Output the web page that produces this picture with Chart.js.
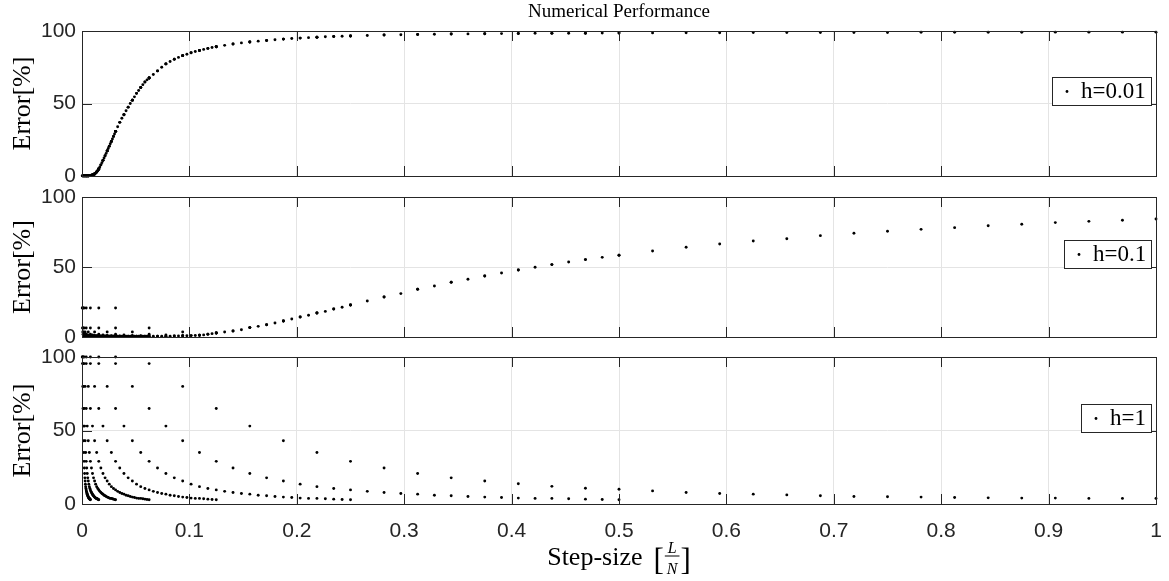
<!DOCTYPE html>
<html>
<head>
<meta charset="utf-8">
<title>Numerical Performance</title>
<script src="https://cdn.jsdelivr.net/npm/chart.js@4"></script>
<style>
  html, body { margin: 0; padding: 0; background: #fff; }
  #wrap { position: relative; width: 1169px; height: 581px; }
  #wrap canvas { position: absolute; left: 0; top: 0; }
</style>
</head>
<body>
<div id="wrap">
  <canvas id="panelTop" width="1169" height="581"></canvas>
  <canvas id="panelMid" width="1169" height="581"></canvas>
  <canvas id="panelBot" width="1169" height="581"></canvas>
</div>
<script>
// step index k along each run, step-size is k / N
const stepIndex = [1, 2, 3, 4, 5, 6, 7, 8, 9, 10, 11, 12, 13, 14, 15, 16,
                   17, 18, 19, 20, 21, 22, 23, 24, 25, 26, 27, 28, 29, 30, 31, 32];
const xTicks = [0, 0.1, 0.2, 0.3, 0.4, 0.5, 0.6, 0.7, 0.8, 0.9, 1];
const yTicks = [0, 50, 100];

// h = 0.01 (error in %, one array per N)
const topN32 = [30.8, 67.6, 83.0, 89.1, 92.4, 94.4, 95.7, 96.6, 97.2, 97.6, 97.9, 98.1, 98.3, 98.4, 98.5, 98.6,
                98.7, 98.8, 98.8, 98.9, 98.9, 99.0, 99.0, 99.0, 99.1, 99.1, 99.1, 99.1, 99.2, 99.2, 99.2, 99.2];
const topN64 = [4.8, 30.8, 52.3, 67.6, 77.3, 83.0, 86.6, 89.1, 91.0, 92.4, 93.5, 94.4, 95.1, 95.7, 96.2, 96.6,
                96.9, 97.2, 97.4, 97.6, 97.8, 97.9, 98.0, 98.1, 98.2, 98.3, 98.4, 98.4, 98.5, 98.5, 98.6, 98.6];
const topN128 = [0.3, 4.8, 17.3, 30.8, 42.2, 52.3, 61.0, 67.6, 72.5, 77.3, 80.5, 83.0, 85.0, 86.6, 88.0, 89.1,
                 90.1, 91.0, 91.8, 92.4, 93.0, 93.5, 94.0, 94.4, 94.8, 95.1, 95.4, 95.7, 96.0, 96.2, 96.4, 96.6];
const topN256 = [0.2, 0.3, 1.4, 4.8, 10.8, 17.3, 23.8, 30.8, 37.0, 42.2, 47.5, 52.3, 57.0, 61.0, 64.8, 67.6,
                 70.0, 72.5, 75.0, 77.3, 79.0, 80.5, 81.8, 83.0, 84.0, 85.0, 85.9, 86.6, 87.3, 88.0, 88.6, 89.1];
const topN512 = [0.1, 0.2, 0.2, 0.3, 0.8, 1.4, 2.8, 4.8, 7.7, 10.8, 14.0, 17.3, 20.6, 23.8, 27.3, 30.8,
                 34.0, 37.0, 39.8, 42.2, 45.0, 47.5, 50.0, 52.3, 54.6, 57.0, 59.0, 61.0, 63.0, 64.8, 66.3, 67.6];
const topN1024 = [0.1, 0.1, 0.1, 0.2, 0.2, 0.2, 0.3, 0.3, 0.5, 0.8, 1.1, 1.4, 2.0, 2.8, 3.7, 4.8,
                  6.2, 7.7, 9.2, 10.8, 12.4, 14.0, 15.6, 17.3, 19.0, 20.6, 22.2, 23.8, 25.5, 27.3, 29.0, 30.8];
const topN2048 = [0.1, 0.1, 0.1, 0.1, 0.1, 0.1, 0.1, 0.2, 0.2, 0.2, 0.2, 0.2, 0.2, 0.3, 0.3, 0.3,
                  0.4, 0.5, 0.6, 0.8, 0.9, 1.1, 1.2, 1.4, 1.7, 2.0, 2.4, 2.8, 3.2, 3.7, 4.2, 4.8];
const topN4096 = [0.1, 0.1, 0.1, 0.1, 0.1, 0.1, 0.1, 0.1, 0.1, 0.1, 0.1, 0.1, 0.1, 0.1, 0.1, 0.1,
                  0.2, 0.2, 0.2, 0.2, 0.2, 0.2, 0.2, 0.2, 0.2, 0.2, 0.3, 0.3, 0.3, 0.3, 0.3, 0.3];

// h = 0.1
const midN32 = [20.7, 6.4, 3.6, 2.9, 6.7, 11.4, 17.1, 22.9, 28.6, 34.1, 39.1, 43.6, 47.9, 51.7, 55.3, 58.4,
                61.4, 64.1, 66.4, 68.6, 70.2, 72.4, 74.1, 75.5, 76.9, 78.1, 79.5, 80.5, 81.7, 82.6, 83.4, 84.3];
const midN64 = [20.7, 6.4, 3.6, 2.0, 1.4, 1.1, 1.3, 2.9, 4.3, 6.7, 8.8, 11.4, 14.3, 17.1, 20.0, 22.9,
                25.7, 28.6, 31.0, 34.1, 36.4, 39.1, 41.2, 43.6, 45.7, 47.9, 49.8, 51.7, 53.6, 55.3, 56.9, 58.4];
const midN128 = [20.7, 6.4, 3.6, 2.0, 1.4, 1.1, 0.9, 0.7, 0.6, 0.6, 0.7, 0.8, 1.0, 1.3, 2.0, 2.9,
                 3.6, 4.3, 5.2, 6.7, 7.6, 8.8, 10.0, 11.4, 12.9, 14.3, 15.5, 17.1, 18.3, 20.0, 21.2, 22.9];
const midN256 = [20.7, 6.4, 3.6, 2.0, 1.4, 1.1, 0.9, 0.8, 0.7, 0.7, 0.6, 0.6, 0.6, 0.5, 0.5, 0.5,
                 0.5, 0.5, 0.6, 0.6, 0.6, 0.7, 0.7, 0.8, 0.9, 1.0, 1.1, 1.3, 1.5, 2.0, 2.4, 2.9];
const midFine = [20.7, 6.4, 3.6, 2.0, 1.4, 1.1, 0.9, 0.8, 0.8, 0.7, 0.7, 0.7, 0.6, 0.6, 0.6, 0.6,
                 0.6, 0.6, 0.6, 0.5, 0.5, 0.5, 0.5, 0.5, 0.5, 0.5, 0.5, 0.5, 0.5, 0.5, 0.5, 0.5];

// h = 1
const botN32 = [100, 95.5, 80, 65, 53, 43, 35, 29, 24.5, 20.7, 17.8, 15.6, 13.8, 12.0, 10.7, 10.0,
                8.9, 7.8, 7.1, 6.7, 6.2, 5.6, 5.1, 4.9, 4.7, 4.4, 4.2, 4.0, 4.0, 3.8, 3.8, 3.8];
const botFine = [100, 95.5, 80, 65, 53, 43, 35, 29, 24.5, 20.7, 17.8, 15.6, 13.5, 11.8, 10.5, 9.6,
                 8.6, 7.8, 7.1, 6.7, 6.0, 5.6, 5.1, 4.7, 4.4, 4.0, 3.8, 3.8, 3.6, 3.3, 3.1, 2.9];

const topRuns = [[32, topN32], [64, topN64], [128, topN128], [256, topN256],
                 [512, topN512], [1024, topN1024], [2048, topN2048], [4096, topN4096]];
const midRuns = [[32, midN32], [64, midN64], [128, midN128], [256, midN256],
                 [512, midFine], [1024, midFine], [2048, midFine], [4096, midFine]];
const botRuns = [[32, botN32], [64, botFine], [128, botFine], [256, botFine],
                 [512, botFine], [1024, botFine], [2048, botFine], [4096, botFine]];

const inkColor = '#262626';
const gridColor = '#e4e4e4';
const tickFont = { family: '"Liberation Sans", Arial, sans-serif', size: 21 };
const serif = '"Liberation Serif", "Times New Roman", serif';

function toPoints(runs) {
  const pts = [];
  runs.forEach(([n, vals]) => {
    vals.forEach((v, i) => pts.push({ x: stepIndex[i] / n, y: v }));
  });
  return pts;
}

// MATLAB-like box with inward ticks
const axesBox = {
  id: 'axesBox',
  afterDatasetsDraw(chart) {
    const { ctx, chartArea: a, scales: { x, y } } = chart;
    ctx.save();
    ctx.strokeStyle = inkColor;
    ctx.lineWidth = 1;
    ctx.beginPath();
    xTicks.forEach(v => {
      const px = Math.round(x.getPixelForValue(v)) + 0.5;
      ctx.moveTo(px, a.top); ctx.lineTo(px, a.top + 10);
      ctx.moveTo(px, a.bottom); ctx.lineTo(px, a.bottom - 10);
    });
    yTicks.forEach(v => {
      const py = Math.round(y.getPixelForValue(v)) + 0.5;
      ctx.moveTo(a.left, py); ctx.lineTo(a.left + 10, py);
      ctx.moveTo(a.right, py); ctx.lineTo(a.right - 10, py);
    });
    ctx.stroke();
    ctx.strokeRect(Math.round(a.left) + 0.5, Math.round(a.top) + 0.5,
                   Math.round(a.right - a.left), Math.round(a.bottom - a.top));
    ctx.restore();
  }
};

// legend box sitting on the 50% line at the right
const boxLegend = {
  id: 'boxLegend',
  afterDraw(chart) {
    const { ctx, chartArea: a, scales: { y } } = chart;
    const label = chart.data.datasets[0].label;
    ctx.save();
    ctx.font = '23px ' + serif;
    const tw = ctx.measureText(label).width;
    const w = Math.round(tw + 34), h = 28;
    const right = Math.round(a.right) - 5;
    const bottom = Math.round(y.getPixelForValue(50)) + 1;
    const left = right - w, top = bottom - h;
    ctx.fillStyle = '#fff';
    ctx.fillRect(left, top, w, h);
    ctx.strokeStyle = inkColor;
    ctx.lineWidth = 1;
    ctx.strokeRect(left + 0.5, top + 0.5, w, h);
    ctx.fillStyle = '#000';
    ctx.beginPath();
    ctx.arc(left + 15, top + h / 2 + 0.5, 1.4, 0, Math.PI * 2);
    ctx.fill();
    ctx.textBaseline = 'middle';
    ctx.fillText(label, left + 29, top + h / 2 + 1);
    ctx.restore();
  }
};

// x axis title with the L/N fraction
const stepLabel = {
  id: 'stepLabel',
  afterDraw(chart) {
    const { ctx, chartArea: a } = chart;
    const cx = (a.left + a.right) / 2;
    ctx.save();
    ctx.fillStyle = '#000';
    ctx.textBaseline = 'alphabetic';
    ctx.font = '26px ' + serif;
    const word = 'Step-size';
    const wWord = ctx.measureText(word).width;
    ctx.font = '31px ' + serif;
    const wBr = ctx.measureText('[').width;
    ctx.font = 'italic 16px ' + serif;
    const wL = ctx.measureText('L').width, wN = ctx.measureText('N').width;
    const wFrac = Math.max(wL, wN) + 6;
    const gap = 11;
    const total = wWord + gap + wBr + wFrac + wBr;
    let x = cx - total / 2;
    ctx.font = '26px ' + serif;
    ctx.fillText(word, x, 565);
    x += wWord + gap;
    ctx.font = '31px ' + serif;
    ctx.fillText('[', x, 570);
    x += wBr;
    ctx.font = 'italic 16px ' + serif;
    ctx.fillText('L', x + (wFrac - wL) / 2, 553);
    ctx.fillText('N', x + (wFrac - wN) / 2, 574);
    ctx.fillRect(x + 1, 555.5, wFrac - 2, 1);
    x += wFrac;
    ctx.font = '31px ' + serif;
    ctx.fillText(']', x, 570);
    ctx.restore();
  }
};

function makePanel(id, label, runs, cfg) {
  return new Chart(document.getElementById(id), {
    type: 'scatter',
    data: {
      datasets: [{
        label: label,
        data: toPoints(runs),
        pointBackgroundColor: '#000',
        pointBorderWidth: 0,
        pointRadius: 1.45,
        clip: false
      }]
    },
    options: {
      responsive: false,
      animation: false,
      devicePixelRatio: 1,
      events: [],
      layout: { padding: { top: cfg.top, bottom: cfg.bottom, left: 0, right: 13 } },
      plugins: {
        legend: { display: false },
        tooltip: { enabled: false },
        title: cfg.title || { display: false }
      },
      scales: {
        x: {
          type: 'linear', min: 0, max: 1,
          afterBuildTicks: s => { s.ticks = xTicks.map(v => ({ value: v })); },
          ticks: {
            display: cfg.showX, autoSkip: false, maxRotation: 0, padding: 15,
            color: inkColor, font: tickFont,
            callback: v => String(Math.round(v * 10) / 10)
          },
          grid: { color: gridColor, drawTicks: false },
          border: { display: false },
          afterFit: s => { s.height = cfg.xh; s.paddingLeft = 0; s.paddingRight = 0; }
        },
        y: {
          min: 0, max: 100,
          afterBuildTicks: s => { s.ticks = yTicks.map(v => ({ value: v })); },
          ticks: { padding: 6, color: inkColor, font: tickFont },
          grid: { color: gridColor, drawTicks: false },
          border: { display: false },
          title: {
            display: true, text: 'Error[%]', color: '#000',
            font: { family: serif, size: 26 }, padding: { top: 8, bottom: 0 }
          },
          afterFit: s => { s.width = 82; }
        }
      }
    },
    plugins: [axesBox, boxLegend].concat(cfg.extra || [])
  });
}

makePanel('panelTop', 'h=0.01', topRuns, {
  top: 0, bottom: 405, xh: 0, showX: false,
  title: {
    display: true, text: 'Numerical Performance', fullSize: false, color: '#000',
    font: { family: serif, size: 19, weight: 'normal' }, padding: { top: 1, bottom: 7.2 }
  }
});
makePanel('panelMid', 'h=0.1', midRuns, { top: 197, bottom: 244, xh: 0, showX: false });
makePanel('panelBot', 'h=1', botRuns, { top: 357, bottom: 0, xh: 77, showX: true, extra: [stepLabel] });
</script>
</body>
</html>
